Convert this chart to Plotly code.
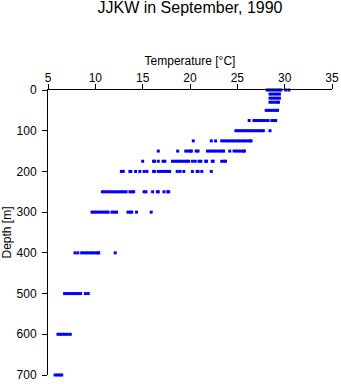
import plotly.graph_objects as go

# Depths (m) of the sampled levels
depths = [0, 10, 20, 30, 50, 75, 100, 125, 150, 175, 200, 250, 300, 400, 500, 600, 700]

# Temperature readings (deg C) at each depth
t_0 = [28.15, 28.4, 28.65, 28.9, 29.15, 29.4, 29.6, 30.1, 30.45]
t_10 = [28.45, 28.7, 28.95, 29.2, 29.45]
t_20 = [28.45, 28.7, 28.95, 29.2, 29.45]
t_30 = [28.45, 28.7, 28.95, 29.2, 29.35]
t_50 = [28.05, 28.3, 28.55, 28.8, 29.05, 29.25]
t_75 = [26.25, 26.75, 27.0, 27.25, 27.5, 27.75, 28.0, 28.25, 28.65, 28.85, 29.05]
t_100 = [24.85, 25.1, 25.35, 25.6, 25.85, 26.1, 26.35, 26.6, 26.85, 27.1, 27.35, 27.6, 27.75, 28.45]
t_125 = [20.35, 22.25, 22.7, 23.35, 23.6, 23.85, 24.1, 24.35, 24.6, 24.85, 25.1, 25.35,
         25.6, 25.85, 26.1, 26.35, 26.45]
t_150 = [16.65, 18.7, 19.55, 19.8, 20.05, 20.15, 20.65, 20.85, 21.85, 22.1, 22.35, 22.6,
         22.85, 23.1, 23.35, 23.55, 24.2, 24.65, 24.9, 25.15, 25.4, 25.65, 25.75]
t_175 = [15.0, 16.15, 16.25, 16.65, 17.15, 17.35, 18.15, 18.4, 18.65, 18.9, 19.15, 19.4,
         19.65, 19.85, 20.25, 20.55, 20.95, 21.15, 21.65, 21.75, 22.35, 22.45, 23.35, 23.6, 23.75]
t_200 = [12.75, 12.95, 13.65, 13.75, 14.25, 14.7, 15.15, 15.45, 16.15, 16.25, 16.65, 16.9,
         17.15, 17.4, 17.65, 17.85, 18.65, 18.95, 19.35, 20.25, 20.75, 20.85, 21.25, 22.25]
t_250 = [10.75, 11.0, 11.25, 11.5, 11.75, 12.0, 12.25, 12.5, 12.75, 13.0, 13.25, 13.65,
         13.9, 14.05, 15.15, 15.35, 16.05, 16.55, 16.65, 17.25, 17.65, 17.75]
t_300 = [9.65, 9.9, 10.15, 10.4, 10.65, 10.9, 11.15, 11.35, 11.75, 12.0, 12.25, 13.45,
         13.7, 13.85, 14.35, 15.9]
t_400 = [7.85, 8.15, 8.55, 8.8, 9.05, 9.3, 9.55, 9.8, 10.05, 10.3, 10.35, 12.1]
t_500 = [6.75, 7.0, 7.25, 7.5, 7.75, 8.0, 8.25, 8.45, 8.95, 9.25]
t_600 = [6.05, 6.3, 6.55, 6.8, 7.05, 7.35]
t_700 = [5.75, 6.0, 6.25, 6.45]

temps = [t_0, t_10, t_20, t_30, t_50, t_75, t_100, t_125, t_150, t_175, t_200,
         t_250, t_300, t_400, t_500, t_600, t_700]

xs, ys = [], []
for d, tl in zip(depths, temps):
    xs.extend(tl)
    ys.extend([d] * len(tl))

font_family = "Liberation Sans, Arial, sans-serif"

fig = go.Figure()
fig.add_trace(go.Scatter(
    x=xs, y=ys, mode="markers",
    marker=dict(symbol="square", size=3, color="#0000ff", line=dict(width=0)),
    cliponaxis=False, hoverinfo="x+y", showlegend=False,
))

fig.update_layout(
    width=341, height=384,
    margin=dict(l=48, r=9, t=90, b=9, autoexpand=False),
    paper_bgcolor="white", plot_bgcolor="white",
    font=dict(family=font_family, size=12, color="black"),
    title=dict(text="JJKW in September, 1990", x=0.5, xref="paper",
               y=1 - 7.5 / 384, yref="container", yanchor="middle",
               font=dict(size=16, family=font_family, color="black")),
    xaxis=dict(
        side="top", range=[5, 35], dtick=5, tick0=5,
        ticks="outside", ticklen=5, tickwidth=1, tickcolor="black",
        ticklabelstandoff=-3,
        showline=True, linecolor="black", linewidth=1,
        showgrid=False, zeroline=False,
        tickfont=dict(size=12),
        title=dict(text="Temperature [°C]", font=dict(size=12), standoff=3),
        automargin=False,
    ),
    yaxis=dict(
        range=[700, 0], dtick=100, tick0=0,
        ticks="outside", ticklen=5, tickwidth=1, tickcolor="black",
        ticklabelstandoff=3,
        showline=True, linecolor="black", linewidth=1,
        showgrid=False, zeroline=False,
        tickfont=dict(size=12),
        title=dict(text="Depth [m]", font=dict(size=12), standoff=4),
        automargin=False,
    ),
)

fig.write_html("out.html")
